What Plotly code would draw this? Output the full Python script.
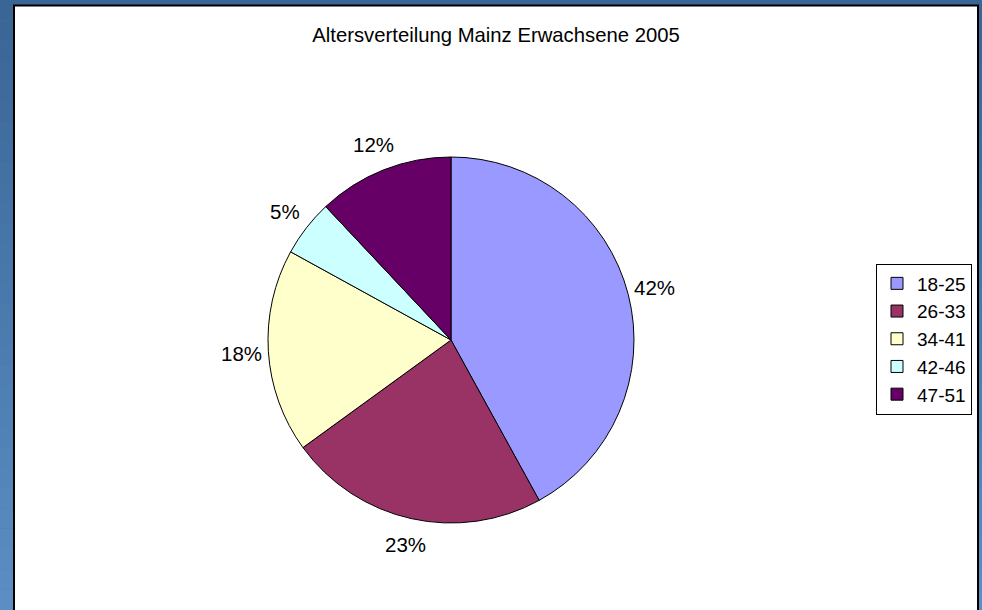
import math
import plotly.graph_objects as go

title = "Altersverteilung Mainz Erwachsene 2005"
categories = ["18-25", "26-33", "34-41", "42-46", "47-51"]
values = [42, 23, 18, 5, 12]
colors = ["#9999FF", "#993366", "#FFFFCC", "#CCFFFF", "#660066"]

W, H = 982, 610
CX, CY, R = 451, 340, 183
FONT = "Liberation Sans, Arial"
fig = go.Figure()

fig.add_trace(go.Pie(
    labels=categories, values=values, sort=False, direction="clockwise", rotation=0,
    marker=dict(colors=colors, line=dict(color="black", width=1)),
    textinfo="none",
    domain=dict(x=[(CX - R) / W, (CX + R) / W], y=[(H - CY - R) / H, (H - CY + R) / H]),
    hoverinfo="label+percent",
))

# percentage labels placed outside the slices along the mid-angle
total = sum(values)
annotations = []
cum = 0.0
label_r = R + 27
for v in values:
    mid = (cum + v / 2) / total * 2 * math.pi
    cum += v
    px = CX + label_r * math.sin(mid)
    py = CY - label_r * math.cos(mid)
    annotations.append(dict(x=px / W, y=1 - py / H, xref="paper", yref="paper",
                            text="%d%%" % round(100 * v / total), showarrow=False,
                            xanchor="center", yanchor="middle",
                            font=dict(family=FONT, size=20.5, color="black")))

# background gradient
shapes = []
n = 30
top = (0x3a, 0x66, 0x96)
bot = (0x5b, 0x8e, 0xc4)
for i in range(n):
    t = i / (n - 1)
    c = tuple(int(top[k] + (bot[k] - top[k]) * t) for k in range(3))
    shapes.append(dict(type="rect", xref="paper", yref="paper", x0=0, x1=1,
                       y0=1 - (i + 1) / n, y1=1 - i / n, line=dict(width=0),
                       fillcolor="rgb(%d,%d,%d)" % c, layer="below"))
shapes.append(dict(type="rect", xref="paper", yref="paper",
                   x0=14 / W, x1=978 / W, y0=-0.05, y1=1 - 5.5 / H,
                   line=dict(color="black", width=2), fillcolor="white", layer="below"))

fig.update_layout(
    width=W, height=H, margin=dict(l=0, r=0, t=0, b=0),
    paper_bgcolor="#4a78aa", plot_bgcolor="white",
    shapes=shapes, annotations=annotations,
    title=dict(text=title, x=496 / W, xanchor="center", y=1 - 35 / H, yanchor="middle",
               font=dict(family=FONT, size=20.3, color="black")),
    showlegend=True,
    legend=dict(x=972 / W, xanchor="right", y=1 - 339 / H, yanchor="middle",
                bgcolor="white", bordercolor="black", borderwidth=1,
                font=dict(family=FONT, size=19, color="black"),
                itemwidth=30),
)

fig.write_html("out.html")
